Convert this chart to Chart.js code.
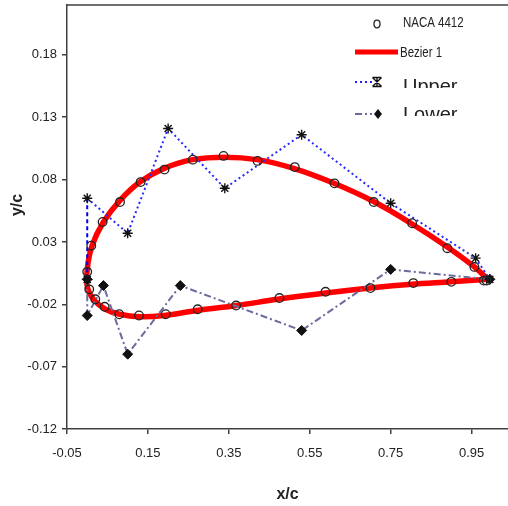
<!DOCTYPE html>
<html>
<head>
<meta charset="utf-8">
<script src="https://cdn.jsdelivr.net/npm/chart.js@4.4.0/dist/chart.umd.min.js"></script>
<style>
    body { margin: 0; background: #fff; }
    #wrap { width: 508px; height: 506px; }
</style>
</head>
<body>
<div id="wrap"><canvas id="airfoil" width="508" height="506"></canvas></div>
<script>
// NACA 4412 reference points (x/c, y/c)
let nacaX = [0.0, 0.010, 0.038, 0.081, 0.132, 0.191, 0.261, 0.337, 0.421, 0.513, 0.611, 0.708, 0.803, 0.890, 0.957, 0.987,
    0.005, 0.020, 0.043, 0.079, 0.128, 0.194, 0.273, 0.368, 0.475, 0.589, 0.700, 0.806, 0.900, 0.980];
let nacaY = [0.006, 0.027, 0.046, 0.062, 0.078, 0.088, 0.096, 0.099, 0.095, 0.090, 0.077, 0.062, 0.045, 0.025, 0.010, -0.001,
    -0.008, -0.016, -0.022, -0.028, -0.029, -0.028, -0.024, -0.021, -0.015, -0.010, -0.007, -0.003, -0.002, -0.001];

// Bezier 1 curve, TE -> upper -> LE -> lower -> TE
let bezierX = [0.99, 0.957, 0.89, 0.80, 0.71, 0.61, 0.51, 0.42, 0.34, 0.26, 0.19, 0.13, 0.08, 0.04, 0.012, 0.0,
    0.001, 0.018, 0.045, 0.08, 0.13, 0.19, 0.27, 0.37, 0.47, 0.59, 0.70, 0.80, 0.90, 0.99];
let bezierY = [0.0, 0.010, 0.026, 0.045, 0.062, 0.077, 0.089, 0.096, 0.098, 0.096, 0.089, 0.078, 0.063, 0.046, 0.027, 0.008,
    -0.007, -0.017, -0.024, -0.028, -0.030, -0.029, -0.025, -0.021, -0.016, -0.011, -0.007, -0.004, -0.002, 0.0];

// control polygons
let upperX = [0.0, 0.0, 0.10, 0.20, 0.34, 0.53, 0.75, 0.96, 0.995];
let upperY = [0.0, 0.065, 0.037, 0.121, 0.073, 0.116, 0.061, 0.017, 0.0];
let lowerX = [0.0, 0.0, 0.04, 0.10, 0.23, 0.53, 0.75, 0.995];
let lowerY = [0.0, -0.029, -0.005, -0.060, -0.005, -0.041, 0.008, 0.0];

let xTicks = [-0.05, 0.15, 0.35, 0.55, 0.75, 0.95];
let yTicks = [-0.12, -0.07, -0.02, 0.03, 0.08, 0.13, 0.18];

const sansFont = "'Liberation Sans', Arial, sans-serif";
const axisColor = '#404040';

function toPoints(xs, ys) {
    return xs.map((x, i) => ({ x: x, y: ys[i] }));
}

const frameAndLegend = {
    id: 'frameAndLegend',
    afterDraw(chart) {
        let ctx = chart.ctx;
        let area = chart.chartArea;

        // top frame line
        ctx.save();
        ctx.strokeStyle = axisColor;
        ctx.lineWidth = 1.5;
        ctx.beginPath();
        ctx.moveTo(area.left, area.top);
        ctx.lineTo(area.right, area.top);
        ctx.stroke();

        // y title
        ctx.fillStyle = '#222';
        ctx.font = 'bold 16px ' + sansFont;
        ctx.textAlign = 'center';
        ctx.textBaseline = 'middle';
        ctx.translate(18, 205);
        ctx.rotate(-Math.PI / 2);
        ctx.fillText('y/c', 0, 0);
        ctx.restore();

        // legend
        ctx.save();
        ctx.fillStyle = '#222';
        ctx.textAlign = 'left';
        ctx.textBaseline = 'middle';

        ctx.strokeStyle = '#222';
        ctx.lineWidth = 1.3;
        ctx.beginPath();
        ctx.ellipse(377, 24, 3, 3.8, 0, 0, Math.PI * 2);
        ctx.stroke();
        narrowText(ctx, 'NACA 4412', 403, 23, '14px ' + sansFont);

        ctx.strokeStyle = '#ff0000';
        ctx.lineWidth = 5;
        ctx.beginPath();
        ctx.moveTo(355, 52);
        ctx.lineTo(398, 52);
        ctx.stroke();
        narrowText(ctx, 'Bezier 1', 400, 53, '14px ' + sansFont);

        ctx.strokeStyle = '#2020ff';
        ctx.lineWidth = 2;
        ctx.setLineDash([2, 3]);
        ctx.beginPath();
        ctx.moveTo(355, 82);
        ctx.lineTo(372, 82);
        ctx.stroke();
        ctx.setLineDash([]);
        drawStar(ctx, 377, 82, 4.5);

        ctx.strokeStyle = '#6b6b9c';
        ctx.setLineDash([7, 3, 2, 3]);
        ctx.beginPath();
        ctx.moveTo(355, 114);
        ctx.lineTo(372, 114);
        ctx.stroke();
        ctx.setLineDash([]);
        ctx.fillStyle = '#111';
        ctx.beginPath();
        ctx.moveTo(378, 109);
        ctx.lineTo(382, 114);
        ctx.lineTo(378, 119);
        ctx.lineTo(374, 114);
        ctx.closePath();
        ctx.fill();

        ctx.fillStyle = '#222';
        ctx.font = '20px ' + sansFont;
        ctx.textBaseline = 'alphabetic';
        clippedText(ctx, 'Upper', 403, 93, 70, 88);
        clippedText(ctx, 'Lower', 403, 121, 100, 116);
        ctx.restore();
    }
};

// condensed look of the small legend labels
function narrowText(ctx, text, x, y, font) {
    ctx.save();
    ctx.font = font;
    ctx.translate(x, y);
    ctx.scale(0.82, 1);
    ctx.fillText(text, 0, 0);
    ctx.restore();
}

function drawStar(ctx, x, y, r) {
    ctx.save();
    ctx.strokeStyle = '#111';
    ctx.lineWidth = 1.4;
    ctx.beginPath();
    ctx.moveTo(x - r, y - r); ctx.lineTo(x + r, y + r);
    ctx.moveTo(x + r, y - r); ctx.lineTo(x - r, y + r);
    ctx.moveTo(x, y - r); ctx.lineTo(x, y + r);
    ctx.moveTo(x - r, y - r); ctx.lineTo(x + r, y - r);
    ctx.moveTo(x - r, y + r); ctx.lineTo(x + r, y + r);
    ctx.stroke();
    ctx.restore();
}

function clippedText(ctx, text, x, y, top, bottom) {
    ctx.save();
    ctx.beginPath();
    ctx.rect(x - 5, top, 120, bottom - top);
    ctx.clip();
    ctx.fillText(text, x, y);
    ctx.restore();
}

let ctx = document.getElementById('airfoil').getContext('2d');

let airfoilChart = new Chart(ctx, {
    type: 'scatter',
    data: {
        datasets: [{
            label: 'NACA 4412',
            data: toPoints(nacaX, nacaY),
            showLine: false,
            pointStyle: 'circle',
            pointRadius: 4.3,
            pointBorderWidth: 1.3,
            pointBorderColor: '#222',
            pointBackgroundColor: 'rgba(0,0,0,0)'
        }, {
            label: 'Upper',
            data: toPoints(upperX, upperY),
            showLine: true,
            borderColor: '#2828ff',
            borderWidth: 2,
            borderDash: [2, 3],
            segment: {
                borderColor: c => c.p0DataIndex === 0 ? '#0000ee' : undefined,
                borderDash: c => c.p0DataIndex === 0 ? [4, 3] : undefined
            },
            pointStyle: 'star',
            pointRadius: 5,
            pointBorderWidth: 1.4,
            pointBorderColor: '#111',
            pointBackgroundColor: '#111'
        }, {
            label: 'Lower',
            data: toPoints(lowerX, lowerY),
            showLine: true,
            borderColor: '#6b6b9c',
            borderWidth: 2,
            borderDash: [7, 3, 2, 3],
            pointStyle: 'rectRot',
            pointRadius: 5,
            pointBorderWidth: 1,
            pointBorderColor: '#111',
            pointBackgroundColor: '#111'
        }, {
            label: 'Bezier 1',
            data: toPoints(bezierX, bezierY),
            showLine: true,
            borderColor: '#ff0000',
            borderWidth: 5.5,
            tension: 0.35,
            pointRadius: 0
        }]
    },
    options: {
        responsive: false,
        devicePixelRatio: 1,
        animation: false,
        layout: { autoPadding: false, padding: { top: 5, right: 0, bottom: 0, left: 0 } },
        plugins: {
            legend: { display: false },
            tooltip: { enabled: false }
        },
        scales: {
            x: {
                type: 'linear',
                min: -0.05,
                max: 1.04,
                afterBuildTicks: scale => { scale.ticks = xTicks.map(v => ({ value: v })); },
                afterFit: scale => {
                    scale.height = 77;
                    scale.paddingLeft = 0;
                    scale.paddingRight = 0;
                },
                grid: { drawOnChartArea: false, drawTicks: true, tickLength: 5, color: axisColor, lineWidth: 1.5 },
                border: { display: true, color: axisColor, width: 1.5 },
                ticks: {
                    padding: 12,
                    color: '#222',
                    font: { family: sansFont, size: 13 },
                    maxRotation: 0,
                    callback: value => value.toFixed(2)
                },
                title: {
                    display: true,
                    text: 'x/c',
                    color: '#222',
                    padding: { top: 0, bottom: 2 },
                    font: { family: sansFont, size: 16, weight: 'bold' }
                }
            },
            y: {
                type: 'linear',
                min: -0.12,
                max: 0.22,
                afterBuildTicks: scale => { scale.ticks = yTicks.map(v => ({ value: v })); },
                afterFit: scale => {
                    scale.width = 67;
                    scale.paddingTop = 0;
                    scale.paddingBottom = 0;
                },
                grid: { drawOnChartArea: false, drawTicks: true, tickLength: 5, color: axisColor, lineWidth: 1.5 },
                border: { display: true, color: axisColor, width: 1.5 },
                ticks: {
                    padding: 5,
                    color: '#222',
                    font: { family: sansFont, size: 13 },
                    callback: value => value.toFixed(2)
                }
            }
        }
    },
    plugins: [frameAndLegend]
});
</script>
</body>
</html>
